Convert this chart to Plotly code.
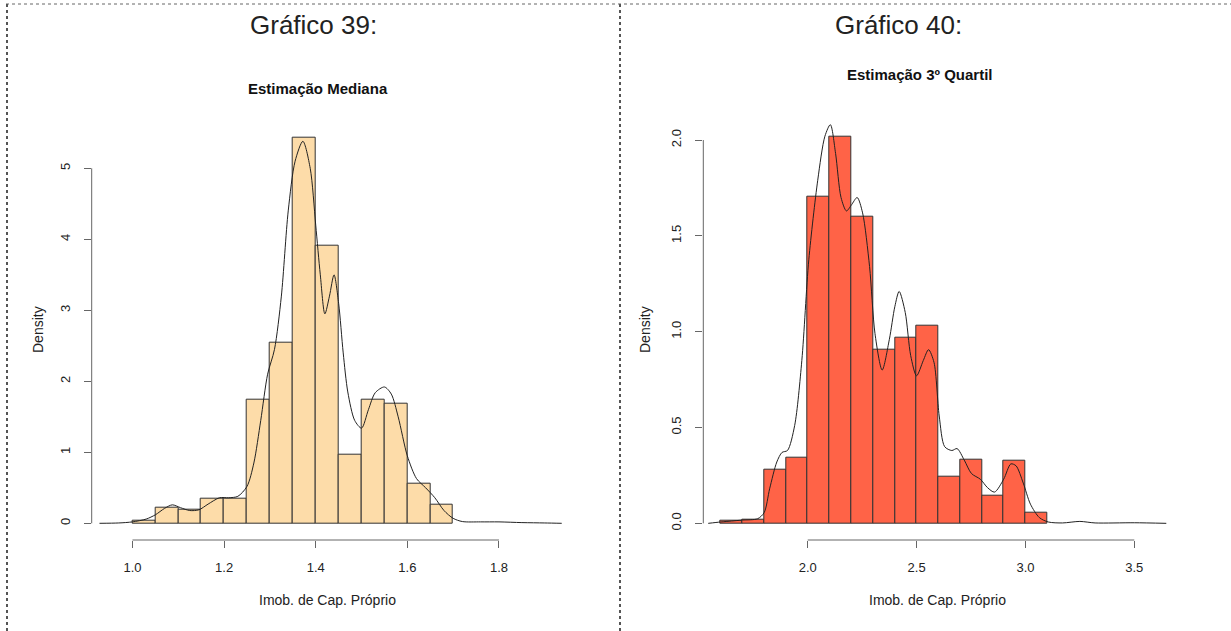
import plotly.graph_objects as go

W, H = 1231, 631

# ---------------- data: left chart (Estimação Mediana) ----------------
left_bin_edges = [1.00, 1.05, 1.10, 1.15, 1.20, 1.25, 1.30, 1.35, 1.40, 1.45,
                  1.50, 1.55, 1.60, 1.65, 1.70]
left_density = [0.03, 0.22, 0.19, 0.34, 0.35, 1.74, 2.55, 5.43, 3.91, 0.97,
                1.74, 1.68, 0.56, 0.26]
left_kde_x = [0.928, 0.97, 1.00, 1.03, 1.05, 1.07, 1.087, 1.105, 1.125, 1.145,
              1.165, 1.19, 1.21, 1.23, 1.25, 1.265, 1.28, 1.295, 1.31, 1.325,
              1.34, 1.355, 1.372, 1.388, 1.40, 1.41, 1.42, 1.43, 1.44, 1.45,
              1.46, 1.47, 1.485, 1.50, 1.515, 1.53, 1.55, 1.565, 1.58, 1.60,
              1.62, 1.64, 1.66, 1.68, 1.70, 1.72, 1.76, 1.80, 1.85, 1.90, 1.937]
left_kde_y = [0.0, 0.005, 0.02, 0.06, 0.12, 0.21, 0.26, 0.22, 0.18, 0.19,
              0.27, 0.36, 0.36, 0.38, 0.52, 0.85, 1.45, 2.1, 2.45, 3.2,
              4.4, 5.1, 5.38, 5.0, 4.2, 3.5, 2.95, 3.2, 3.5, 3.1,
              2.4, 1.85, 1.45, 1.34, 1.6, 1.84, 1.92, 1.82, 1.5, 0.95,
              0.63, 0.5, 0.36, 0.18, 0.07, 0.025, 0.02, 0.02, 0.01, 0.005, 0.0]
left_xticks = [1.0, 1.2, 1.4, 1.6, 1.8]
left_yticks = [0, 1, 2, 3, 4, 5]

# ---------------- data: right chart (Estimação 3º Quartil) ----------------
right_bin_edges = [1.6, 1.7, 1.8, 1.9, 2.0, 2.1, 2.2, 2.3, 2.4, 2.5, 2.6, 2.7,
                   2.8, 2.9, 3.0, 3.1]
right_density = [0.015, 0.02, 0.28, 0.34, 1.705, 2.016, 1.60, 0.906, 0.97,
                 1.033, 0.245, 0.333, 0.142, 0.328, 0.057]
right_kde_x = [1.543, 1.60, 1.65, 1.70, 1.77, 1.80, 1.825, 1.858, 1.882, 1.907,
               1.94, 1.973, 2.005, 2.046, 2.079, 2.104, 2.128, 2.153, 2.178, 2.20,
               2.227, 2.252, 2.284, 2.309, 2.342, 2.375, 2.40, 2.42, 2.448, 2.473,
               2.50, 2.531, 2.555, 2.58, 2.604, 2.629, 2.662, 2.686, 2.719, 2.752,
               2.793, 2.826, 2.858, 2.90, 2.933, 2.957, 2.99, 3.023, 3.064, 3.105,
               3.17, 3.25, 3.32, 3.50, 3.647]
right_kde_y = [0.0, 0.007, 0.012, 0.017, 0.024, 0.056, 0.18, 0.32, 0.37, 0.38,
               0.51, 0.85, 1.375, 1.79, 2.02, 2.08, 1.93, 1.70, 1.63, 1.66,
               1.70, 1.62, 1.34, 0.99, 0.80, 0.96, 1.13, 1.21, 1.10, 0.875,
               0.77, 0.85, 0.906, 0.84, 0.56, 0.40, 0.38, 0.39, 0.33, 0.26,
               0.23, 0.186, 0.163, 0.23, 0.31, 0.30, 0.21, 0.10, 0.03, 0.007,
               0.002, 0.01, 0.002, 0.003, 0.0]
right_xticks = [2.0, 2.5, 3.0, 3.5]
right_yticks = [0.0, 0.5, 1.0, 1.5, 2.0]

FONT = "Liberation Sans, Arial, Helvetica, sans-serif"
AXC = "#666666"
TXT = "#222222"


def px_x(p):
    return p / W


def px_y(p):
    return (H - p) / H


def centers(edges):
    return [(a + b) / 2 for a, b in zip(edges[:-1], edges[1:])]


def widths(edges):
    return [b - a for a, b in zip(edges[:-1], edges[1:])]


fig = go.Figure()

fig.add_trace(go.Bar(x=centers(left_bin_edges), y=left_density,
                     width=widths(left_bin_edges),
                     marker=dict(color="#FDDCA9", line=dict(color="#333333", width=1)),
                     xaxis="x", yaxis="y", showlegend=False))
fig.add_trace(go.Scatter(x=left_kde_x, y=left_kde_y, mode="lines",
                         line=dict(color="#222222", width=1, shape="spline", smoothing=0.8),
                         xaxis="x", yaxis="y", showlegend=False))

fig.add_trace(go.Bar(x=centers(right_bin_edges), y=right_density,
                     width=widths(right_bin_edges),
                     marker=dict(color="#FF6347", line=dict(color="#333333", width=1)),
                     xaxis="x2", yaxis="y2", showlegend=False))
fig.add_trace(go.Scatter(x=right_kde_x, y=right_kde_y, mode="lines",
                         line=dict(color="#222222", width=1, shape="spline", smoothing=0.8),
                         xaxis="x2", yaxis="y2", showlegend=False))

axis_common = dict(showgrid=False, zeroline=False, showline=False, ticks="outside",
                   ticklen=7, tickwidth=1, tickcolor=AXC,
                   tickfont=dict(family=FONT, size=13, color=TXT), fixedrange=True)

fig.update_layout(
    width=W, height=H, margin=dict(l=0, r=0, t=0, b=0),
    paper_bgcolor="white", plot_bgcolor="white", bargap=0,
    xaxis=dict(domain=[px_x(91.7), px_x(568.6)], range=[0.911, 1.952],
               tickvals=left_xticks, ticktext=[f"{v:.1f}" for v in left_xticks],
               anchor="y", ticklabelstandoff=8, **axis_common),
    yaxis=dict(domain=[px_y(540), px_y(125.7)], range=[-0.235, 5.6],
               tickvals=left_yticks, ticktext=[str(v) for v in left_yticks],
               tickangle=-90, anchor="x", ticklabelstandoff=9, **axis_common),
    xaxis2=dict(domain=[px_x(703.3), px_x(1171.3)], range=[1.5204, 3.67],
                tickvals=right_xticks, ticktext=[f"{v:.1f}" for v in right_xticks],
                anchor="y2", ticklabelstandoff=8, **axis_common),
    yaxis2=dict(domain=[px_y(540), px_y(101.7)], range=[-0.087, 2.2],
                tickvals=right_yticks, ticktext=[f"{v:.1f}" for v in right_yticks],
                tickangle=-90, anchor="x2", ticklabelstandoff=9, **axis_common),
)

shapes = []
# R-style axis lines spanning first to last tick
for xr, yr, xt, yt in [("x", "y", left_xticks, left_yticks),
                       ("x2", "y2", right_xticks, right_yticks)]:
    shapes.append(dict(type="line", xref=xr, yref=f"{yr} domain",
                       x0=min(xt), x1=max(xt), y0=0, y1=0,
                       line=dict(color=AXC, width=1), layer="above"))
    shapes.append(dict(type="line", xref=f"{xr} domain", yref=yr,
                       x0=0, x1=0, y0=min(yt), y1=max(yt),
                       line=dict(color=AXC, width=1), layer="above"))
# dotted document frame
frame = dict(color="#555555", width=2, dash="dot")
shapes.append(dict(type="line", xref="paper", yref="paper", x0=px_x(6), x1=1,
                   y0=px_y(4), y1=px_y(4), line=dict(color="#666666", width=1, dash="dot")))
shapes.append(dict(type="line", xref="paper", yref="paper", x0=px_x(7), x1=px_x(7),
                   y0=px_y(4), y1=0, line=frame))
shapes.append(dict(type="line", xref="paper", yref="paper", x0=px_x(620), x1=px_x(620),
                   y0=px_y(4), y1=0, line=frame))
fig.update_layout(shapes=shapes)

ann = []


def text(x, y, s, size, bold=False, angle=0):
    ann.append(dict(x=px_x(x), y=px_y(y), xref="paper", yref="paper", text=s,
                    showarrow=False, textangle=angle, xanchor="center", yanchor="middle",
                    font=dict(family=FONT, size=size, color="#111111" if bold else TXT)))


text(313, 25, "Gráfico 39:", 26)
text(898, 25, "Gráfico 40:", 26)
text(318, 88, "<b>Estimação Mediana</b>", 15, bold=True)
text(920, 74, "<b>Estimação 3º Quartil</b>", 15, bold=True)
text(327, 600, "Imob. de Cap. Próprio", 14)
text(938, 600, "Imob. de Cap. Próprio", 14)
text(38, 330, "Density", 14, angle=-90)
text(645, 330, "Density", 14, angle=-90)
fig.update_layout(annotations=ann)

fig.write_html("out.html")
